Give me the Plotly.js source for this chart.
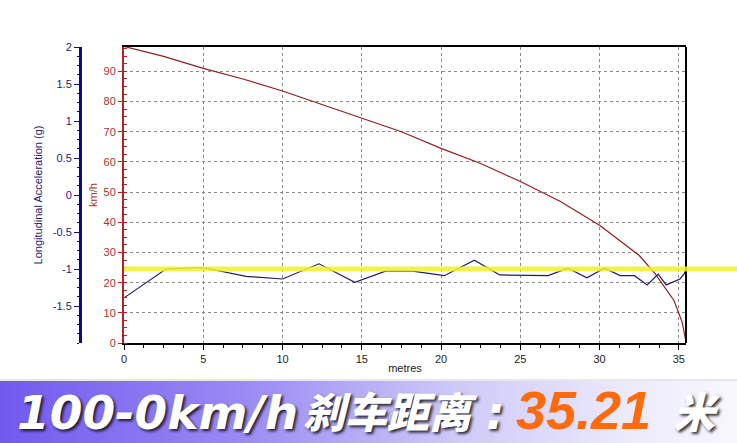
<!DOCTYPE html>
<html>
<head>
<meta charset="utf-8">
<script src="https://cdn.plot.ly/plotly-3.0.1.min.js"></script>
<style>html,body{margin:0;padding:0;background:#fff;}#chart{width:737px;height:443px;}</style>
</head>
<body>
<div id="chart"></div>
<script>
// ---- data ----
const speedDist = [0, 2.5, 5, 7.5, 10, 12.5, 15, 17.5, 20, 22.5, 25, 27.5, 30, 31.5, 32.5, 33.5, 34.2, 34.7, 35.2, 35.45];
const speedKmh  = [98.3, 95, 91, 87.5, 83.5, 79, 74.5, 70, 64.5, 59.5, 53.5, 47, 39, 33, 29, 23, 17.5, 14, 7, 0.5];

const accDist = [0, 2.65, 4.96, 7.7, 10.0, 12.3, 14.56, 16.5, 18.2, 20.2, 22.1, 23.7, 26.75, 28.0, 29.2, 30.3, 31.3, 32.2, 33.0, 33.7, 34.2, 35.07, 35.35, 35.45];
const accG    = [-1.39, -1.0, -0.98, -1.10, -1.135, -0.93, -1.18, -1.03, -1.03, -1.09, -0.88, -1.08, -1.09, -0.99, -1.12, -0.99, -1.09, -1.09, -1.215, -1.07, -1.215, -1.135, -1.06, -1.0];

const xTicks   = [0, 5, 10, 15, 20, 25, 30, 35];
const kmhTicks = [0, 10, 20, 30, 40, 50, 60, 70, 80, 90];
const accTicks = [2, 1.5, 1, 0.5, 0, -0.5, -1, -1.5];
const accTickText = ['2', '1.5', '1', '0.5', '0', '-0.5', '-1', '-1.5'];
const targetG = -1.0;

const bannerParts = ['100-0km/h', '刹车距离', ':', '35.21', '米'];

// ---- geometry helpers (pixel -> paper) ----
const L = 20, R = 51, T = 47, B = 100, W = 737 - L - R, H = 443 - T - B;
const px = p => (p - L) / W;
const py = p => (443 - B - p) / H;

const gradSvg = "<svg xmlns='http://www.w3.org/2000/svg' width='737' height='63' preserveAspectRatio='none'>" +
  "<defs><linearGradient id='g' x1='0' x2='1' y1='0' y2='0'>" +
  "<stop offset='0' stop-color='#7259ee'/><stop offset='0.33' stop-color='#9a8af3'/>" +
  "<stop offset='0.62' stop-color='#cfc9f8'/><stop offset='0.85' stop-color='#eceafc'/><stop offset='1' stop-color='#f8f8fd'/>" +
  "</linearGradient></defs><rect width='737' height='63' fill='url(#g)'/></svg>";
const gradUri = 'data:image/svg+xml;charset=utf-8,' + encodeURIComponent(gradSvg);

const traces = [
  {x: speedDist, y: speedKmh, type: 'scatter', mode: 'lines', yaxis: 'y',
   line: {color: '#8e1f1f', width: 1.2}, hoverinfo: 'skip'},
  {x: accDist, y: accG, type: 'scatter', mode: 'lines', yaxis: 'y2',
   line: {color: '#1d1d6e', width: 1.2}, hoverinfo: 'skip'}
];

const baseFont = 'Liberation Sans, Arial, sans-serif';
const shadow = '2px 2px 3px rgba(0,0,0,0.8)';
const yPaperTarget = (targetG - (-2)) / 4;
const bannerY = py(442);

const layout = {
  width: 737, height: 443,
  margin: {l: L, r: R, t: T, b: B, pad: 0},
  paper_bgcolor: '#ffffff', plot_bgcolor: '#ffffff',
  showlegend: false,
  font: {family: baseFont, size: 11, color: '#222'},
  xaxis: {
    domain: [px(124), 1], range: [0, 35.45],
    tickvals: xTicks, ticks: 'outside', ticklen: 5, tickcolor: '#000', tickwidth: 1,
    tickfont: {size: 11, color: '#222'},
    showline: true, linecolor: '#000', linewidth: 2, mirror: true,
    showgrid: true, gridcolor: '#8a8a8a', griddash: '3px,3px', gridwidth: 1,
    zeroline: false,
    minor: {dtick: 1.25, ticks: 'outside', ticklen: 3, tickcolor: '#000', showgrid: false},
    title: {text: 'metres', font: {size: 11, color: '#222'}, standoff: 0}
  },
  yaxis: {
    range: [0, 98.1], anchor: 'x', side: 'left',
    tickvals: kmhTicks, ticks: 'outside', ticklen: 4, tickcolor: '#b22222', tickwidth: 1,
    tickfont: {size: 11, color: '#b03030'},
    showline: true, linecolor: '#b22222', linewidth: 2,
    showgrid: true, gridcolor: '#8a8a8a', griddash: '3px,3px', gridwidth: 1,
    zeroline: false,
    minor: {dtick: 2.5, ticks: 'inside', ticklen: 3, tickcolor: '#b22222', showgrid: false},
    title: {text: 'km/h', font: {size: 11, color: '#b03030'}, standoff: 4}
  },
  yaxis2: {
    range: [-2, 2], overlaying: 'y', side: 'left', anchor: 'free', position: px(80),
    tickvals: accTicks, ticktext: accTickText, ticks: 'outside', ticklen: 5, tickcolor: '#101080', tickwidth: 1,
    tickfont: {size: 11, color: '#1c1c7a'},
    showline: true, linecolor: '#0a0a8c', linewidth: 3,
    showgrid: false, zeroline: false,
    minor: {dtick: 0.125, ticks: 'outside', ticklen: 2, tickcolor: '#101080', showgrid: false},
    title: {text: 'Longitudinal Acceleration (g)', font: {size: 11, color: '#1c1c6e'}, standoff: 6}
  },
  shapes: [
    {type: 'line', xref: 'x domain', yref: 'y domain', x0: 1, x1: 1, y0: 0, y1: 1,
     line: {color: '#000', width: 2}},
    {type: 'line', xref: 'paper', yref: 'paper', x0: px(124), x1: px(737), y0: yPaperTarget, y1: yPaperTarget,
     line: {color: 'rgba(242,238,40,0.85)', width: 5}, layer: 'above'},
    {type: 'line', xref: 'paper', yref: 'paper', x0: px(0), x1: px(737), y0: py(380), y1: py(380),
     line: {color: '#d0d0d0', width: 1}}
  ],
  images: [
    {source: gradUri, xref: 'paper', yref: 'paper', x: px(0), y: py(381),
     sizex: 737 / W, sizey: 62 / H, sizing: 'stretch', xanchor: 'left', yanchor: 'top', layer: 'below'}
  ],
  annotations: [
    {text: bannerParts[0], xref: 'paper', yref: 'paper', x: px(15), y: bannerY, xanchor: 'left', yanchor: 'bottom',
     showarrow: false, font: {family: 'DejaVu Sans, sans-serif', size: 47, weight: 'bold', style: 'italic', color: '#ffffff', shadow: shadow}},
    {text: bannerParts[1], xref: 'paper', yref: 'paper', x: px(301), y: bannerY, xanchor: 'left', yanchor: 'bottom',
     showarrow: false, font: {family: 'Noto Sans CJK SC, sans-serif', size: 42, weight: 900, style: 'italic', color: '#ffffff', shadow: shadow}},
    {text: bannerParts[2], xref: 'paper', yref: 'paper', x: px(484), y: bannerY, xanchor: 'left', yanchor: 'bottom',
     showarrow: false, font: {family: 'DejaVu Sans, sans-serif', size: 47, weight: 'bold', style: 'italic', color: '#ffffff', shadow: shadow}},
    {text: bannerParts[3], xref: 'paper', yref: 'paper', x: px(514), y: bannerY, xanchor: 'left', yanchor: 'bottom',
     showarrow: false, font: {family: 'Liberation Sans, Arial, sans-serif', size: 54, weight: 'bold', style: 'italic', color: '#ff6a0c'}},
    {text: bannerParts[4], xref: 'paper', yref: 'paper', x: px(671), y: bannerY, xanchor: 'left', yanchor: 'bottom',
     showarrow: false, font: {family: 'Noto Sans CJK SC, sans-serif', size: 42, weight: 900, style: 'italic', color: '#ffffff', shadow: shadow}}
  ]
};

Plotly.newPlot('chart', traces, layout, {staticPlot: true, displayModeBar: false});
</script>
</body>
</html>
